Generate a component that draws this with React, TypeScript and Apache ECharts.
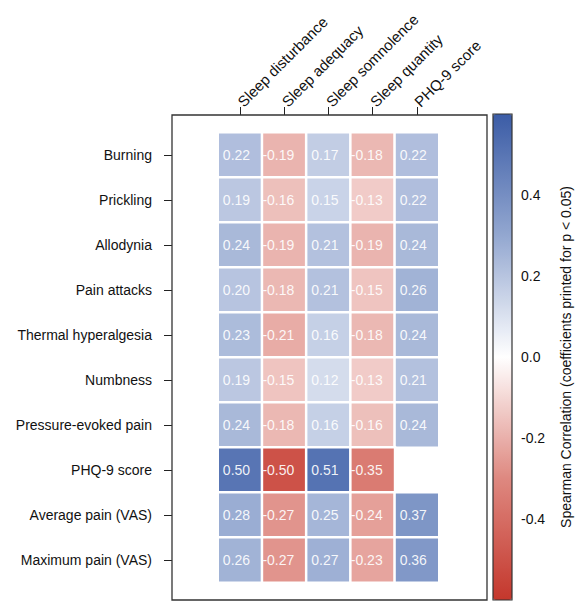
import React, { useEffect, useRef } from "react";
import * as echarts from "echarts";

const outcomes = ["Sleep disturbance", "Sleep adequacy", "Sleep somnolence", "Sleep quantity", "PHQ-9 score"];
const predictors = [
  "Burning",
  "Prickling",
  "Allodynia",
  "Pain attacks",
  "Thermal hyperalgesia",
  "Numbness",
  "Pressure-evoked pain",
  "PHQ-9 score",
  "Average pain (VAS)",
  "Maximum pain (VAS)",
];
const burning = [0.22, -0.19, 0.17, -0.18, 0.22];
const prickling = [0.19, -0.16, 0.15, -0.13, 0.22];
const allodynia = [0.24, -0.19, 0.21, -0.19, 0.24];
const painAttacks = [0.2, -0.18, 0.21, -0.15, 0.26];
const thermal = [0.23, -0.21, 0.16, -0.18, 0.24];
const numbness = [0.19, -0.15, 0.12, -0.13, 0.21];
const pressure = [0.24, -0.18, 0.16, -0.16, 0.24];
const phq9 = [0.5, -0.5, 0.51, -0.35, null];
const avgPain = [0.28, -0.27, 0.25, -0.24, 0.37];
const maxPain = [0.26, -0.27, 0.27, -0.23, 0.36];
const rows = [burning, prickling, allodynia, painAttacks, thermal, numbness, pressure, phq9, avgPain, maxPain];
const colorbarTicks = [-0.4, -0.2, 0, 0.2, 0.4];
const scaleMin = -0.6;
const scaleMax = 0.6;
const palette = ["#C4372C", "#DE8880", "#FFFFFF", "#93A7D0", "#3B5CA6"];
const barTitle = "Spearman Correlation (coefficients printed for p < 0.05)";

const FONT = "'Liberation Sans', Arial, Helvetica, sans-serif";

export default function App() {
  const ref = useRef<HTMLDivElement>(null);
  useEffect(() => {
    if (!ref.current) return;
    const chart = echarts.init(ref.current, undefined, { renderer: "svg" });
    const data: any[] = [];
    rows.forEach((r, yi) => {
      r.forEach((v, xi) => {
        if (v !== null) data.push([xi, yi, v]);
      });
    });
    chart.setOption({
      animation: false,
      textStyle: { fontFamily: FONT },
      graphic: [
        {
          type: "rect",
          shape: { x: 172, y: 115, width: 315, height: 485 },
          style: { fill: "none", stroke: "#333", lineWidth: 1.3 },
          z: 1,
        },
      ],
      grid: [
        { left: 218, right: 139, top: 132.5, bottom: 21.5 },
        { left: 493, top: 114, width: 19, height: 486, show: true, borderColor: "#333", borderWidth: 1.2, backgroundColor: "transparent", z: 5 },
      ],
      xAxis: [
        {
          type: "category",
          data: outcomes,
          gridIndex: 0,
          position: "top",
          offset: 17.5,
          axisLine: { show: false },
          axisTick: { show: true, alignWithLabel: true, length: 8, lineStyle: { color: "#222" } },
          axisLabel: { rotate: -45, margin: 11, fontSize: 15, color: "#111", fontFamily: FONT },
          splitLine: { show: false },
        },
        { type: "value", gridIndex: 1, show: false, min: 0, max: 1 },
      ],
      yAxis: [
        {
          type: "category",
          data: predictors,
          gridIndex: 0,
          inverse: true,
          offset: 46,
          axisLine: { show: false },
          axisTick: { show: true, alignWithLabel: true, length: 8, lineStyle: { color: "#222" } },
          axisLabel: { margin: 20, fontSize: 14, color: "#111", fontFamily: FONT },
          splitLine: { show: false },
        },
        {
          type: "value",
          gridIndex: 1,
          position: "right",
          min: scaleMin,
          max: scaleMax,
          interval: 0.2,
          axisLine: { show: false },
          axisTick: { show: true, length: 6, customValues: colorbarTicks, lineStyle: { color: "#222" } },
          axisLabel: {
            show: true,
            margin: 9,
            fontSize: 14,
            color: "#111",
            fontFamily: FONT,
            customValues: colorbarTicks,
            formatter: (v: number) => v.toFixed(1),
          },
          splitLine: { show: false },
          name: barTitle,
          nameLocation: "middle",
          nameRotate: 90,
          nameGap: 47,
          nameTextStyle: { fontSize: 14, color: "#111", fontFamily: FONT },
        },
      ],
      visualMap: {
        type: "continuous",
        seriesIndex: 0,
        min: scaleMin,
        max: scaleMax,
        calculable: false,
        left: 493,
        top: 114,
        itemWidth: 19,
        itemHeight: 486,
        padding: 0,
        inRange: { color: palette },
        showLabel: false,
      },
      series: [
        {
          type: "heatmap",
          xAxisIndex: 0,
          yAxisIndex: 0,
          data,
          itemStyle: { borderColor: "#fff", borderWidth: 2.5 },
          label: {
            show: true,
            align: "right",
            offset: [10, 0],
            color: "rgba(255,255,255,0.92)",
            fontSize: 14,
            fontFamily: FONT,
            formatter: (p: any) => (p.value[2] as number).toFixed(2),
          },
          emphasis: { disabled: true },
        },
      ],
    });
    return () => chart.dispose();
  }, []);
  return <div ref={ref} style={{ position: "absolute", left: 0, top: 0, width: 578, height: 604 }} />;
}
